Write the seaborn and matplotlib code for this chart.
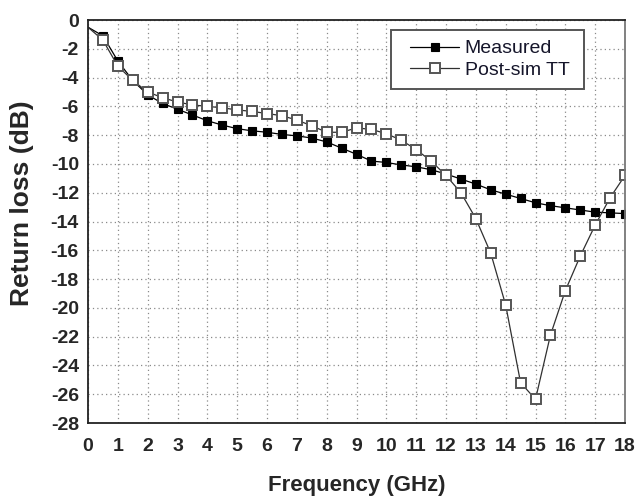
import numpy as np
import pandas as pd
import matplotlib
matplotlib.use("Agg")
import matplotlib.pyplot as plt
from matplotlib.lines import Line2D
from matplotlib.legend_handler import HandlerLine2D
from matplotlib.ticker import MultipleLocator
import seaborn as sns

# Frequency sweep (GHz), 0.5 GHz steps
freq = [0.0, 0.5, 1.0, 1.5, 2.0, 2.5, 3.0, 3.5, 4.0, 4.5, 5.0, 5.5, 6.0, 6.5,
        7.0, 7.5, 8.0, 8.5, 9.0, 9.5, 10.0, 10.5, 11.0, 11.5, 12.0, 12.5,
        13.0, 13.5, 14.0, 14.5, 15.0, 15.5, 16.0, 16.5, 17.0, 17.5, 18.0]

# Return loss (dB)
measured = [-0.5, -1.1, -2.85, -4.2, -5.2, -5.8, -6.2, -6.6, -7.0, -7.3, -7.55,
            -7.7, -7.8, -7.95, -8.05, -8.2, -8.47, -8.9, -9.33, -9.8, -9.9,
            -10.07, -10.2, -10.4, -10.7, -11.05, -11.4, -11.8, -12.1, -12.4,
            -12.7, -12.9, -13.05, -13.2, -13.35, -13.4, -13.45]
post_sim_tt = [-0.5, -1.4, -3.2, -4.2, -5.0, -5.4, -5.7, -5.9, -6.0, -6.1, -6.25,
               -6.35, -6.5, -6.65, -6.95, -7.35, -7.8, -7.8, -7.5, -7.6, -7.9,
               -8.35, -9.0, -9.8, -10.8, -12.0, -13.8, -16.2, -19.8, -25.2,
               -26.35, -21.9, -18.8, -16.4, -14.25, -12.35, -10.8]

series_names = ["Measured", "Post-sim TT"]
x_ticks = list(range(0, 19))
y_ticks = list(range(-28, 1, 2))

df = pd.DataFrame({"freq": freq, "Measured": measured, "Post-sim TT": post_sim_tt})

sns.set_theme(style="white")
plt.rcParams["font.family"] = ["Liberation Sans", "DejaVu Sans"]
plt.rcParams["axes.unicode_minus"] = False

fig = plt.figure(figsize=(6.38, 4.98), dpi=100)
ax = fig.add_axes([88 / 638, 1 - 423 / 498, (625 - 88) / 638, (423 - 20) / 498])

marks = slice(1, None)
meas_style = dict(color="black", lw=0.9, marker="s", markersize=6.3,
                  markerfacecolor="black", markeredgecolor="black",
                  markeredgewidth=0.8)
sim_style = dict(color="#303030", lw=0.9, marker="s", markersize=6.5,
                 markerfacecolor="white", markeredgecolor="#555555",
                 markeredgewidth=1.4)
sns.lineplot(data=df, x="freq", y="Measured", ax=ax, markevery=marks, **meas_style)
sns.lineplot(data=df, x="freq", y="Post-sim TT", ax=ax, markevery=marks, **sim_style)

ax.set_xlim(0, 18)
ax.set_ylim(-28, 0)
ax.set_xticks(x_ticks)
ax.set_yticks(y_ticks)
ax.xaxis.set_minor_locator(MultipleLocator(0.5))
ax.yaxis.set_minor_locator(MultipleLocator(1))

ax.grid(True, which="major", linestyle=(0, (1, 2.5)), color="#8a8a8a", lw=0.9)
ax.tick_params(axis="both", which="major", direction="out", length=5, width=1.3,
               color="#222222", labelsize=14)
ax.tick_params(axis="x", which="major", pad=6)
ax.tick_params(axis="y", which="major", pad=1.5)
ax.tick_params(axis="both", which="minor", direction="out", length=3, width=1.1,
               color="#222222")
ax.tick_params(top=False, right=False, which="both")
for lab in ax.get_xticklabels() + ax.get_yticklabels():
    lab.set_fontweight("bold")

for side in ["left", "bottom", "top"]:
    ax.spines[side].set_color("#222222")
    ax.spines[side].set_linewidth(1.3)
ax.spines["right"].set_color("#777777")
ax.spines["right"].set_linewidth(1.3)

ax.set_xlabel("Frequency (GHz)", fontsize=16, fontweight="bold", labelpad=14)
ax.set_ylabel("Return loss (dB)", fontsize=19, fontweight="bold")
ax.yaxis.set_label_coords(-0.1, 0.545)

handles = [Line2D([], [], **meas_style), Line2D([], [], **sim_style)]
leg = ax.legend(handles, series_names, loc="upper right",
                bbox_to_anchor=((391 - 88) / 537, 0.5, (584 - 391) / 537, (423 - 30) / 403 - 0.5),
                mode="expand", fontsize=14, frameon=True, fancybox=False,
                framealpha=1, edgecolor="#555555", handlelength=2.98,
                handletextpad=0.31, borderpad=0.5, labelspacing=0.2,
                borderaxespad=0,
                handler_map={Line2D: HandlerLine2D(xpad=0.5)})
leg.get_frame().set_linewidth(1.4)
for t in leg.get_texts():
    t.set_color("#15152a")

fig.savefig("out.png", dpi=100, facecolor="white")
